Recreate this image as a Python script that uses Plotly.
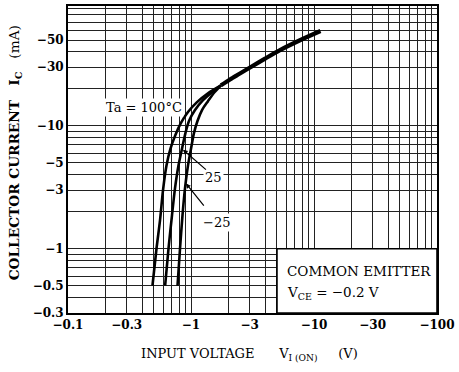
import math
import plotly.graph_objects as go

# ---- data ----
# Input voltage magnitude |V_I(ON)| (V) and collector current magnitude |Ic| (mA)
v_100 = [0.486, 0.524, 0.560, 0.592, 0.632, 0.681, 0.748, 0.829, 0.945, 1.119, 1.374, 1.754]
i_100 = [0.5, 1.0, 1.71, 2.99, 4.76, 6.52, 8.46, 10.57, 12.97, 15.6, 18.46, 21.4]

v_25 = [0.616, 0.656, 0.701, 0.741, 0.791, 0.845, 0.902, 0.963, 1.078, 1.252, 1.482, 1.754]
i_25 = [0.5, 1.0, 1.88, 3.1, 4.76, 6.52, 8.78, 10.97, 13.46, 16.2, 18.8, 21.4]

v_m25 = [0.777, 0.814, 0.853, 0.894, 0.945, 1.0, 1.058, 1.129, 1.229, 1.374, 1.553, 1.754]
i_m25 = [0.5, 1.0, 1.88, 3.1, 4.76, 6.52, 8.78, 10.97, 13.46, 15.9, 18.8, 21.4]

v_common = [1.754, 2.075, 2.50, 3.02, 4.0, 5.29, 7.69, 11.29]
i_common = [21.4, 23.9, 26.7, 29.9, 35.3, 41.4, 49.8, 59.2]

x_major = [0.1, 0.3, 1, 3, 10, 30, 100]
x_labels = ["\u22120.1", "\u22120.3", "\u22121", "\u22123", "\u221210", "\u221230", "\u2212100"]
x_minor = [0.2, 0.4, 0.5, 0.6, 0.7, 0.8, 0.9, 2, 4, 5, 6, 7, 8, 9, 20, 40, 50, 60, 70, 80, 90]

y_major = [0.3, 0.5, 1, 3, 5, 10, 30, 50]
y_labels = ["\u22120.3", "\u22120.5", "\u22121", "\u22123", "\u22125", "\u221210", "\u221230", "\u221250"]
y_minor = [0.4, 0.6, 0.7, 0.8, 0.9, 2, 4, 6, 7, 8, 9, 20, 40, 60, 70, 80, 90]

# condition box region (V, mA)
box_v = [5, 100]
box_i = [0.3, 1.0]

FONT = "DejaVu Serif"
L = math.log10
NB = "\u00a0"

fig = go.Figure()

for vv, ii in [(v_100, i_100), (v_25, i_25), (v_m25, i_m25)]:
    fig.add_trace(go.Scatter(x=vv, y=ii, mode="lines",
                             line=dict(color="black", width=2.6, shape="spline", smoothing=0.8),
                             hoverinfo="skip", showlegend=False))
fig.add_trace(go.Scatter(x=v_common, y=i_common, mode="lines",
                         line=dict(color="black", width=4.2, shape="spline", smoothing=0.8),
                         hoverinfo="skip", showlegend=False))

# white box with conditions
fig.add_trace(go.Scatter(x=[box_v[0], box_v[1], box_v[1], box_v[0], box_v[0]],
                         y=[box_i[0], box_i[0], box_i[1], box_i[1], box_i[0]],
                         mode="lines", fill="toself", fillcolor="white",
                         line=dict(color="black", width=1.6), hoverinfo="skip", showlegend=False))

lab_font = dict(family=FONT, size=13, color="black")
ann = []
ann.append(dict(x=L(0.411), y=L(14.2), xref="x", yref="y", text="Ta = 100\u00b0C", showarrow=False,
                font=lab_font, bgcolor="white", borderpad=1))
ann.append(dict(x=L(1.51), y=L(3.81), xref="x", yref="y", text="25", showarrow=False,
                font=lab_font, bgcolor="white", borderpad=1))
ann.append(dict(x=L(1.6), y=L(1.65), xref="x", yref="y", text="\u221225", showarrow=False,
                font=lab_font, bgcolor="white", borderpad=1))
# leader lines
ann.append(dict(x=L(0.86), y=L(6.4), xref="x", yref="y", ax=L(1.36), ay=L(4.3), axref="x", ayref="y",
                text="", showarrow=True, arrowhead=2, arrowsize=0.8, arrowwidth=1.2, arrowcolor="black"))
ann.append(dict(x=L(0.91), y=L(3.4), xref="x", yref="y", ax=L(1.30), ay=L(2.18), axref="x", ayref="y",
                text="", showarrow=True, arrowhead=2, arrowsize=0.8, arrowwidth=1.2, arrowcolor="black"))
# box text
box_font = dict(family=FONT, size=13.5, color="black")
ann.append(dict(x=L(5.8), y=L(0.665), xref="x", yref="y", xanchor="left", text="COMMON EMITTER",
                showarrow=False, font=box_font))
ann.append(dict(x=L(5.8), y=L(0.44), xref="x", yref="y", xanchor="left",
                text="V<sub>CE</sub> = \u22120.2 V", showarrow=False, font=box_font))
# axis titles
ann.append(dict(x=-0.1436, y=0.52, xref="paper", yref="paper", xanchor="center", yanchor="middle",
                textangle=-90, showarrow=False,
                text="<b>COLLECTOR CURRENT" + NB * 3 + "I<sub>C</sub></b>" + NB * 3 + "(mA)",
                font=dict(family=FONT, size=13.7, color="black")))
ann.append(dict(x=0.493, y=-0.136, xref="paper", yref="paper", xanchor="center", yanchor="middle",
                showarrow=False,
                text="INPUT VOLTAGE" + NB * 6 + "V<sub>I (ON)</sub>" + NB * 5 + "(V)",
                font=dict(family=FONT, size=13, color="black")))

grid_col = "#222222"
tick_font = dict(family=FONT, size=12, color="black", weight="bold")
fig.update_layout(
    width=459, height=372,
    margin=dict(l=68, r=22, t=4, b=59),
    paper_bgcolor="white", plot_bgcolor="white",
    showlegend=False,
    annotations=ann,
    xaxis=dict(type="log", range=[-1, 2], tickvals=x_major, ticktext=x_labels,
               showgrid=True, gridcolor=grid_col, gridwidth=1.3,
               minor=dict(tickvals=x_minor, showgrid=True, gridcolor=grid_col, gridwidth=1, ticks=""),
               showline=True, linecolor="black", linewidth=2, mirror=True, ticks="", zeroline=False,
               tickfont=tick_font),
    yaxis=dict(type="log", range=[L(0.3), 1.976], tickvals=y_major, ticktext=y_labels,
               showgrid=True, gridcolor=grid_col, gridwidth=1.3,
               minor=dict(tickvals=y_minor, showgrid=True, gridcolor=grid_col, gridwidth=1, ticks=""),
               showline=True, linecolor="black", linewidth=2, mirror=True, ticks="", zeroline=False,
               tickfont=tick_font),
)

fig.write_html("out.html", config={"displayModeBar": False},
               post_script="document.body.style.margin='0px';")
